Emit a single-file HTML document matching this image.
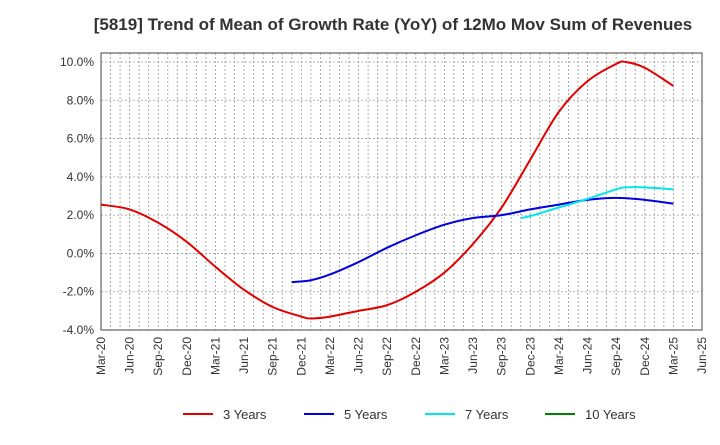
<!DOCTYPE html>
<html><head><meta charset="utf-8"><style>
body{margin:0;background:#fff;font-family:"Liberation Sans",sans-serif}
</style></head><body>
<svg id="c" width="720" height="440" xmlns="http://www.w3.org/2000/svg" font-family="Liberation Sans, sans-serif"></svg>
<script>
const xLabels=["Mar-20","Jun-20","Sep-20","Dec-20","Mar-21","Jun-21","Sep-21","Dec-21","Mar-22","Jun-22","Sep-22","Dec-22","Mar-23","Jun-23","Sep-23","Dec-23","Mar-24","Jun-24","Sep-24","Dec-24","Mar-25","Jun-25"];
const yTicks=[-4,-2,0,2,4,6,8,10];
const s3Months=[0,3,6,9,12,15,18,21,22,24,27,30,33,36,39,42,45,48,51,54,55,57,60];
const s3Values=[2.55,2.3,1.6,0.6,-0.7,-1.9,-2.8,-3.3,-3.4,-3.3,-3.0,-2.7,-2.0,-1.0,0.5,2.4,4.9,7.4,9.0,9.9,10.0,9.7,8.75];
const s5Months=[20,22,24,27,30,33,36,39,42,45,48,51,54,57,60];
const s5Values=[-1.5,-1.4,-1.1,-0.45,0.3,0.95,1.5,1.85,2.0,2.3,2.55,2.8,2.9,2.8,2.6];
const s7Months=[44,45,48,51,54,55,57,60];
const s7Values=[1.85,1.95,2.4,2.85,3.35,3.45,3.45,3.35];
const L=101,R=702,T=53,B=330;
const X=m=>L+m*(R-L)/63;
const Y=v=>330-(v+4)*(268/14);
const svg=document.getElementById('c');const NS="http://www.w3.org/2000/svg";
function el(t,a,txt){const e=document.createElementNS(NS,t);for(const k in a)e.setAttribute(k,a[k]);if(txt!=null)e.textContent=txt;svg.appendChild(e);return e;}
const title=el('text',{x:393,y:30,'text-anchor':'middle','font-size':17,'font-weight':'bold',fill:'#333'},'[5819]  Trend of Mean of Growth Rate (YoY) of 12Mo Mov Sum of Revenues');


for(let m=1;m<63;m++){const g=el('line',{x1:X(m),x2:X(m),y1:T,y2:B,stroke:'#999','stroke-width':0.8,'stroke-dasharray':'2,2'});

}
yTicks.forEach(v=>{const g=el('line',{x1:L,x2:R,y1:Y(v),y2:Y(v),stroke:'#999','stroke-width':0.8,'stroke-dasharray':'2,2'});


const t=el('text',{x:L-7,y:Y(v)+4,'text-anchor':'end','font-size':12,fill:'#333'},v.toFixed(1)+'%');

});
xLabels.forEach((s,i)=>{const x=X(i*3);const t=el('text',{transform:`translate(${x+4},${B+7}) rotate(-90)`,'text-anchor':'end','font-size':12,fill:'#333'},s);

});
const fr=el('rect',{x:L,y:T,width:R-L,height:B-T,fill:'none',stroke:'#444','stroke-width':1});


function path(ms,vs){const p=ms.map((m,i)=>[X(m),Y(vs[i])]);let d=`M${p[0][0]},${p[0][1]}`;
for(let i=0;i<p.length-1;i++){const p0=p[i-1]||p[i],p1=p[i],p2=p[i+1],p3=p[i+2]||p2;
d+=` C${p1[0]+(p2[0]-p0[0])/6},${p1[1]+(p2[1]-p0[1])/6} ${p2[0]-(p3[0]-p1[0])/6},${p2[1]-(p3[1]-p1[1])/6} ${p2[0]},${p2[1]}`;}return d;}
[[s3Months,s3Values,'#e00000','series-3-years'],[s5Months,s5Values,'#0000dd','series-5-years'],[s7Months,s7Values,'#00e5ee','series-7-years']].forEach(([m,v,c,n])=>{
const e=el('path',{d:path(m,v),fill:'none',stroke:c,'stroke-width':2});

});
[['3 Years','#e00000',183],['5 Years','#0000dd',304],['7 Years','#00e5ee',425],['10 Years','#008000',545]].forEach(([n,c,x])=>{
const l=el('line',{x1:x,x2:x+30,y1:414,y2:414,stroke:c,'stroke-width':2});


const t=el('text',{x:x+40,y:419,'font-size':13,fill:'#333'},n);

});
</script>
</body></html>
